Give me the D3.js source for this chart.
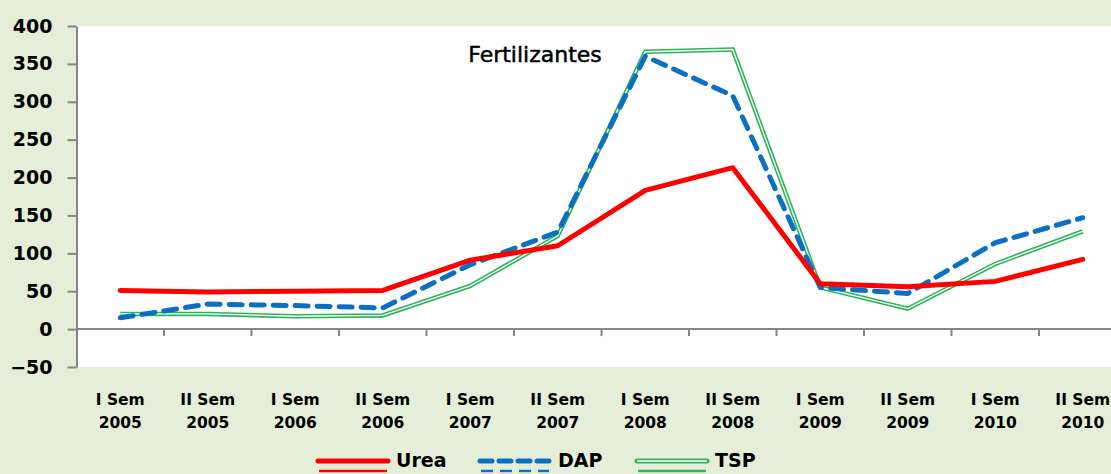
<!DOCTYPE html>
<html>
<head>
<meta charset="utf-8">
<script src="https://cdn.jsdelivr.net/npm/d3@7"></script>
<style>
  html, body { margin: 0; padding: 0; background: #e5eed8; overflow: hidden; }
  svg { display: block; }
</style>
</head>
<body>
<script>
// semesters on the x axis (two-line labels)
const semesters = ["I Sem|2005", "II Sem|2005", "I Sem|2006", "II Sem|2006", "I Sem|2007", "II Sem|2007",
                   "I Sem|2008", "II Sem|2008", "I Sem|2009", "II Sem|2009", "I Sem|2010", "II Sem|2010"];

const urea = [51, 49, 50, 51, 91, 110, 183, 213, 60, 56, 63, 92];
const dap  = [15, 33, 31, 28, 85, 128, 360, 308, 55, 47, 114, 147];
const tsp  = [20, 20, 17, 18, 57, 123, 366, 369, 55, 27, 86, 129];

const yTicks = [-50, 0, 50, 100, 150, 200, 250, 300, 350, 400];

const width = 1111, height = 474;
const marginTop = 26, marginLeft = 76.5, plotBottom = 367;

const svg = d3.select("body").append("svg")
    .attr("width", width)
    .attr("height", height);

svg.append("rect")
    .attr("width", width).attr("height", height)
    .attr("fill", "#e5eed8");

const x = d3.scaleBand()
    .domain(semesters)
    .range([marginLeft, marginLeft + 87.5 * 12])
    .padding(0);

const y = d3.scaleLinear()
    .domain([-50, 400])
    .range([plotBottom, marginTop]);

// white plot area
svg.append("rect")
    .attr("x", marginLeft).attr("y", marginTop)
    .attr("width", width - marginLeft).attr("height", plotBottom - marginTop)
    .attr("fill", "#ffffff");

// y axis
const yAxis = svg.append("g")
    .attr("transform", `translate(${marginLeft},0)`)
    .call(d3.axisLeft(y).tickValues(yTicks).tickSize(9).tickPadding(15).tickSizeOuter(0));
yAxis.selectAll("path, line").attr("stroke", "#868686").attr("stroke-width", 2);
yAxis.selectAll("text")
    .attr("font-family", "DejaVu Sans, Verdana, sans-serif")
    .attr("font-weight", "bold")
    .attr("font-size", 19)
    .attr("fill", "#000");

// x axis at zero
const xAxis = svg.append("g")
    .attr("transform", `translate(0,${y(0)})`)
    .call(d3.axisBottom(x).tickSize(0).tickFormat(""));
xAxis.select("path").attr("stroke", "#868686").attr("stroke-width", 2).attr("d", `M${marginLeft},0H${width}`);

// tick marks at band boundaries
svg.append("g")
    .selectAll("line")
    .data(semesters.slice(1))
    .join("line")
    .attr("x1", d => x(d)).attr("x2", d => x(d))
    .attr("y1", y(0)).attr("y2", y(0) + 7)
    .attr("stroke", "#868686").attr("stroke-width", 2);

// category labels below the plot
const labels = svg.append("g")
    .attr("font-family", "DejaVu Sans, Verdana, sans-serif")
    .attr("font-weight", "bold")
    .attr("font-size", 15.5)
    .attr("text-anchor", "middle")
    .selectAll("text")
    .data(semesters)
    .join("text")
    .attr("x", d => x(d) + x.bandwidth() / 2);
labels.append("tspan").attr("y", 405).text(d => d.split("|")[0]);
labels.append("tspan").attr("x", d => x(d) + x.bandwidth() / 2).attr("y", 428).text(d => d.split("|")[1]);

const line = d3.line()
    .x((d, i) => x(semesters[i]) + x.bandwidth() / 2)
    .y(d => y(d));

// TSP: green double line
svg.append("path").datum(tsp)
    .attr("fill", "none").attr("stroke", "#2db45a").attr("stroke-width", 4.5)
    .attr("stroke-linejoin", "miter").attr("d", line);
svg.append("path").datum(tsp)
    .attr("fill", "none").attr("stroke", "#ffffff").attr("stroke-width", 1.3)
    .attr("stroke-linejoin", "miter").attr("d", line);

// DAP: blue dashed
svg.append("path").datum(dap)
    .attr("fill", "none").attr("stroke", "#0b70c4").attr("stroke-width", 5)
    .attr("stroke-dasharray", "13,9").attr("stroke-linecap", "round")
    .attr("stroke-linejoin", "round").attr("d", line);

// Urea: red
svg.append("path").datum(urea)
    .attr("fill", "none").attr("stroke", "#ff0000").attr("stroke-width", 5)
    .attr("stroke-linejoin", "round").attr("stroke-linecap", "round").attr("d", line);

// title
svg.append("text")
    .attr("x", 535).attr("y", 62)
    .attr("text-anchor", "middle")
    .attr("font-family", "DejaVu Sans, Verdana, sans-serif")
    .attr("font-size", 22)
    .attr("stroke", "#000").attr("stroke-width", 0.5)
    .text("Fertilizantes");

// legend at the bottom edge
const legend = [
  {name: "Urea", color: "#ff0000", dash: null, x0: 318},
  {name: "DAP", color: "#0b70c4", dash: "12,7", x0: 480},
  {name: "TSP", color: "#2db45a", dash: null, x0: 637}
];
const lg = svg.append("g").selectAll("g").data(legend).join("g");
lg.append("line")
    .attr("x1", d => d.x0).attr("x2", d => d.x0 + 70)
    .attr("y1", 461).attr("y2", 461)
    .attr("stroke", d => d.color).attr("stroke-width", 5)
    .attr("stroke-linecap", "round")
    .attr("stroke-dasharray", d => d.dash);
lg.filter(d => d.name === "TSP").append("line")
    .attr("x1", d => d.x0).attr("x2", d => d.x0 + 70)
    .attr("y1", 461).attr("y2", 461)
    .attr("stroke", "#ffffff").attr("stroke-width", 1.3);
lg.append("line")
    .attr("x1", d => d.x0 + 1).attr("x2", d => d.x0 + 69)
    .attr("y1", 471).attr("y2", 471)
    .attr("stroke", d => d.color).attr("stroke-width", 2.5)
    .attr("stroke-dasharray", d => d.dash);
lg.append("text")
    .attr("x", d => d.x0 + 78).attr("y", 467)
    .attr("font-family", "DejaVu Sans, Verdana, sans-serif")
    .attr("font-weight", "bold")
    .attr("font-size", 19)
    .text(d => d.name);
</script>
</body>
</html>
